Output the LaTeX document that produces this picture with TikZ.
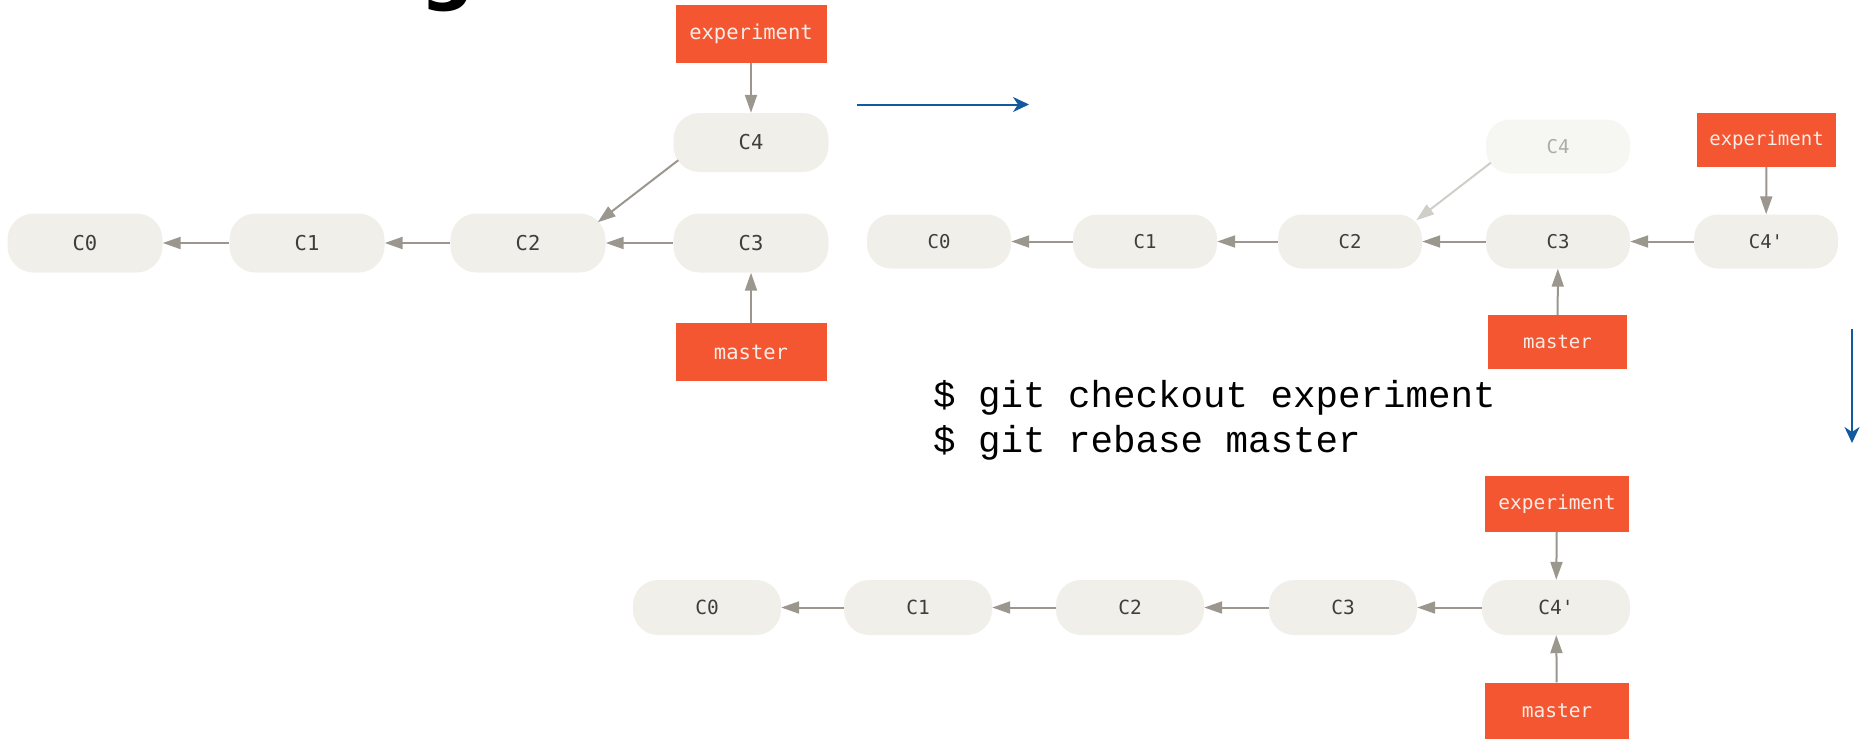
\documentclass[tikz,border=0pt]{standalone}
\usepackage{fontspec}
\usetikzlibrary{arrows.meta,calc}
\newfontfamily\commitfont{DejaVu Sans Mono}[Ligatures=TeXOff]
\newfontfamily\shellfont{Liberation Mono}[Ligatures=TeXOff]
\newfontfamily\headfont{DejaVu Sans}

\definecolor{commitfill}{HTML}{F0EFE9}
\definecolor{committext}{HTML}{3E3E3C}
\definecolor{oldfill}{HTML}{F6F6F2}
\definecolor{oldtext}{HTML}{ABABA8}
\definecolor{branchfill}{HTML}{F35631}
\definecolor{branchtext}{HTML}{F8ECE6}
\definecolor{linkgray}{HTML}{9B978F}
\definecolor{oldgray}{HTML}{D0CEC9}
\definecolor{flowblue}{HTML}{12599F}

% sizes of one history diagram; redefined in each scope
\def\cwid{155pt}\def\chgt{59pt}\def\crad{26pt}\def\cfs{20.5}
\def\bwid{151pt}\def\bhgt{58pt}

\tikzset{
  commit/.style={fill=commitfill, text=committext, rounded corners=\crad,
    minimum width=\cwid, minimum height=\chgt, inner sep=0pt,
    font=\commitfont\fontsize{\cfs}{\cfs}\selectfont},
  oldcommit/.style={commit, fill=oldfill, text=oldtext},
  branch/.style={fill=branchfill, text=branchtext,
    minimum width=\bwid, minimum height=\bhgt, inner sep=0pt,
    font=\commitfont\fontsize{\cfs}{\cfs}\selectfont},
  parent/.style={draw=linkgray, line width=2pt,
    -{Triangle[length=18pt,width=12pt]}},
  oldparent/.style={parent, draw=oldgray},
  flow/.style={draw=flowblue, line width=2pt,
    -{Stealth[length=16pt,width=15pt,inset=5pt]}},
  shell/.style={anchor=base west, inner sep=0pt,
    font=\shellfont\fontsize{37.5}{45}\selectfont}
}

\begin{document}
\begin{tikzpicture}[x=1pt,y=1pt]
\useasboundingbox (0,0) rectangle (1862,-739);

% tail of the page heading above
\node[anchor=base west, inner sep=0pt,
  font=\headfont\bfseries\fontsize{76}{76}\selectfont] (heading) at (420,4.6) {g};

% ---- history before the rebase
\begin{scope}
  \node[commit] (a0) at (85,-243) {C0};
  \node[commit] (a1) at (307,-243) {C1};
  \node[commit] (a2) at (528,-243) {C2};
  \node[commit] (a3) at (751,-243) {C3};
  \node[commit] (a4) at (751,-142.5) {C4};
  \node[branch] (aexp) at (751,-34) {experiment};
  \node[branch] (amas) at (751,-352) {master};
  \draw[parent] (a1) -- (a0);
  \draw[parent] (a2) -- (a1);
  \draw[parent] (a3) -- (a2);
  \draw[parent] ($(a4.south west)+(5,12)$) -- ($(a2.north east)+(-8,-9)$);
  \draw[parent] (aexp) -- (a4);
  \draw[parent] (amas) -- (a3);
\end{scope}

% ---- C4 replayed on top of C3
\begin{scope}
  \def\cwid{144pt}\def\chgt{54pt}\def\crad{24pt}\def\cfs{19}
  \def\bwid{139pt}\def\bhgt{54pt}
  \node[commit] (b0) at (939,-241.5) {C0};
  \node[commit] (b1) at (1145,-241.5) {C1};
  \node[commit] (b2) at (1350,-241.5) {C2};
  \node[commit] (b3) at (1558,-241.5) {C3};
  \node[commit] (b5) at (1766,-241.5) {C4'};
  \node[oldcommit] (b4) at (1558,-146.5) {C4};
  \node[branch] (bexp) at (1766.5,-140) {experiment};
  \node[branch] (bmas) at (1557.5,-342) {master};
  \draw[parent] (b1) -- (b0);
  \draw[parent] (b2) -- (b1);
  \draw[parent] (b3) -- (b2);
  \draw[parent] (b5) -- (b3);
  \draw[oldparent] ($(b4.south west)+(5,11)$) -- ($(b2.north east)+(-6,-6)$);
  \draw[parent] (bexp) -- (b5);
  \draw[parent] (bmas) -- (b3);
\end{scope}

% ---- linear history after the rebase
\begin{scope}
  \def\cwid{148pt}\def\chgt{55pt}\def\crad{25pt}\def\cfs{19.5}
  \def\bwid{144pt}\def\bhgt{56pt}
  \node[commit] (c0) at (707,-607.5) {C0};
  \node[commit] (c1) at (918,-607.5) {C1};
  \node[commit] (c2) at (1130,-607.5) {C2};
  \node[commit] (c3) at (1343,-607.5) {C3};
  \node[commit] (c5) at (1556,-607.5) {C4'};
  \node[branch] (cexp) at (1557,-504) {experiment};
  \node[branch] (cmas) at (1557,-710.5) {master};
  \draw[parent] (c1) -- (c0);
  \draw[parent] (c2) -- (c1);
  \draw[parent] (c3) -- (c2);
  \draw[parent] (c5) -- (c3);
  \draw[parent] (cexp) -- (c5);
  \draw[parent] (cmas) -- (c5);
\end{scope}

% commands
\node[shell] (cmd1) at (933,-407) {\$ git checkout experiment};
\node[shell] (cmd2) at (933,-452) {\$ git rebase master};

% step arrows
\coordinate (f1s) at (857,-104.5);
\coordinate (f1e) at (1029,-104.5);
\coordinate (f2s) at (1852,-329);
\coordinate (f2e) at (1852,-443);
\draw[flow] (f1s) -- (f1e);
\draw[flow] (f2s) -- (f2e);
\end{tikzpicture}
\end{document}
